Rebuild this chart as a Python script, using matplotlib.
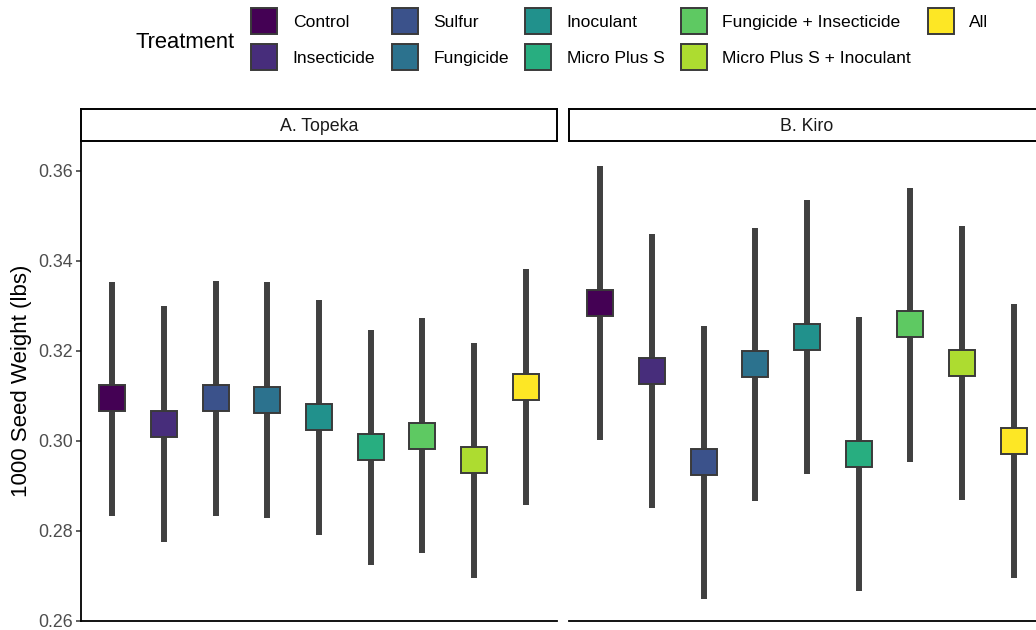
import matplotlib
import matplotlib.pyplot as plt
from matplotlib.lines import Line2D
import numpy as np

plt.switch_backend('Agg')
plt.rcParams['font.family'] = ['Liberation Sans', 'DejaVu Sans']

# data
treatments = ["Control", "Insecticide", "Sulfur", "Fungicide", "Inoculant",
              "Micro Plus S", "Fungicide + Insecticide",
              "Micro Plus S + Inoculant", "All"]
sites = ["A. Topeka", "B. Kiro"]

topeka_mean = [0.3094, 0.3037, 0.3094, 0.3091, 0.3052, 0.2987, 0.3010, 0.2956, 0.3119]
topeka_low = [0.2832, 0.2774, 0.2832, 0.2829, 0.2790, 0.2724, 0.2750, 0.2694, 0.2858]
topeka_high = [0.3354, 0.3299, 0.3355, 0.3352, 0.3314, 0.3247, 0.3273, 0.3217, 0.3381]

kiro_mean = [0.3306, 0.3156, 0.2952, 0.3170, 0.3231, 0.2971, 0.3259, 0.3173, 0.3000]
kiro_low = [0.3001, 0.2850, 0.2647, 0.2865, 0.2927, 0.2666, 0.2953, 0.2869, 0.2695]
kiro_high = [0.3611, 0.3459, 0.3256, 0.3474, 0.3536, 0.3276, 0.3563, 0.3478, 0.3304]

y_ticks = [0.26, 0.28, 0.30, 0.32, 0.34, 0.36]

colors = [matplotlib.colormaps['viridis'](v) for v in np.linspace(0, 1, len(treatments))]
bar_color = "#404040"
edge_color = "#3a3a3a"

W, H = 1036, 630
fig = plt.figure(figsize=(W / 100, H / 100), dpi=100)

# panel geometry in pixels
panel_top, panel_bottom = 140.7, 620.5
panel_w = 476
lefts = [81, 569]
strip_top = 109

panel_data = [(topeka_mean, topeka_low, topeka_high), (kiro_mean, kiro_low, kiro_high)]
x = np.arange(1, len(treatments) + 1)

for i, (site, (mean, low, high)) in enumerate(zip(sites, panel_data)):
    ax = fig.add_axes([lefts[i] / W, (H - panel_bottom) / H, panel_w / W,
                       (panel_bottom - panel_top) / H])
    ax.vlines(x, low, high, colors=bar_color, linewidth=4.3, capstyle='butt', zorder=2)
    for xi, m, c in zip(x, mean, colors):
        ax.plot(xi, m, marker='s', markersize=19, markerfacecolor=c,
                markeredgecolor=edge_color, markeredgewidth=1.4, zorder=3)
    ax.set_xlim(0.4, 9.6)
    ax.set_ylim(0.26, 0.36674)
    ax.set_xticks([])
    for s in ['top', 'right']:
        ax.spines[s].set_visible(False)
    ax.spines['bottom'].set_linewidth(1.3)
    ax.spines['left'].set_linewidth(1.3)
    if i == 0:
        ax.set_yticks(y_ticks)
        ax.set_yticklabels([f"{t:.2f}" for t in y_ticks])
        ax.tick_params(axis='y', length=3.5, width=1.1, colors='#333333',
                       labelcolor='#4d4d4d', labelsize=12.8, pad=2)
        ax.set_ylabel("1000 Seed Weight (lbs)", fontsize=16, color='black', labelpad=5)
    else:
        ax.spines['left'].set_visible(False)
        ax.set_yticks([])

    # facet strip
    sax = fig.add_axes([lefts[i] / W, (H - panel_top) / H, panel_w / W,
                        (panel_top - strip_top) / H])
    sax.set_xticks([])
    sax.set_yticks([])
    for s in sax.spines.values():
        s.set_linewidth(1.4)
    sax.text(0.5, 0.45, site, ha='center', va='center', fontsize=12.8,
             color='#1a1a1a', transform=sax.transAxes)

# legend
handles = [Line2D([], [], linestyle='none', marker='s', markersize=19,
                  markerfacecolor=c, markeredgecolor=edge_color, markeredgewidth=1.4)
           for c in colors]
fig.legend(handles, treatments, ncol=5, loc='center left',
           bbox_to_anchor=(251 / W, 1 - 40.5 / H), frameon=False, fontsize=12.6,
           handlelength=1.5, handletextpad=0.88, columnspacing=0.93,
           labelspacing=1.15, borderpad=0, borderaxespad=0)
fig.text(135 / W, 1 - 42 / H, "Treatment", ha='left', va='center', fontsize=15.8)

fig.savefig("out.png", dpi=100)
